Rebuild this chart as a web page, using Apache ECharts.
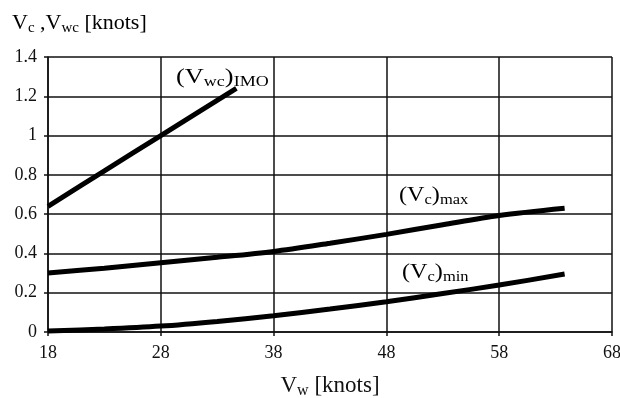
<!DOCTYPE html>
<html>
<head>
<meta charset="utf-8">
<script src="https://cdn.jsdelivr.net/npm/echarts@6/dist/echarts.min.js"></script>
<style>
  html, body { margin: 0; padding: 0; background: #fff; }
  #main { width: 620px; height: 398px; }
</style>
</head>
<body>
<div id="main"></div>
<script>
    // data
    var vwcImo = [[18, 0.64], [23, 0.82], [28, 1.0], [34.7, 1.24]];
    var vcMax = [[18, 0.30], [23, 0.325], [28, 0.353], [33, 0.38], [38, 0.41], [43, 0.452], [48, 0.497], [53, 0.546], [58, 0.593], [63.8, 0.63]];
    var vcMin = [[18, 0.005], [23, 0.015], [28, 0.03], [33, 0.054], [38, 0.083], [43, 0.117], [48, 0.154], [53, 0.196], [58, 0.239], [63.8, 0.295]];
    var xTicks = [18, 28, 38, 48, 58, 68];
    var yTicks = [0, 0.2, 0.4, 0.6, 0.8, 1, 1.2, 1.4];

    var font = 'Liberation Serif';
    var rich = {
        m: { fontFamily: font, fontSize: 22, color: '#111' },
        s: { fontFamily: font, fontSize: 15, color: '#111', padding: [11, 0, 0, 0] }
    };
    var richX = {
        m: { fontFamily: font, fontSize: 23, color: '#111' },
        s: { fontFamily: font, fontSize: 16, color: '#111', padding: [11, 0, 0, 0] }
    };

    var myChart = echarts.init(document.getElementById('main'));

    var lineSeries = function (name, data) {
        return {
            name: name,
            type: 'line',
            data: data,
            smooth: 0.3,
            showSymbol: false,
            symbol: 'none',
            lineStyle: { color: '#000', width: 5, cap: 'butt' },
            animation: false
        };
    };

    option = {
        backgroundColor: '#fff',
        grid: { left: 48, right: 8, top: 57, bottom: 66, containLabel: false, outerBoundsMode: 'none' },
        xAxis: {
            type: 'value',
            min: xTicks[0],
            max: xTicks[xTicks.length - 1],
            interval: 10,
            name: '{m|V}{s|w}{m| [knots]}',
            nameLocation: 'middle',
            nameGap: 40,
            nameTextStyle: { rich: richX },
            axisLine: { lineStyle: { color: '#111', width: 1.5 } },
            axisTick: { show: true, length: 4, lineStyle: { color: '#111', width: 1.5 } },
            axisLabel: { fontFamily: font, fontSize: 18, color: '#111', margin: 12 },
            splitLine: { show: true, lineStyle: { color: '#111', width: 1.5 } }
        },
        yAxis: {
            type: 'value',
            min: yTicks[0],
            max: yTicks[yTicks.length - 1],
            interval: 0.2,
            axisLine: { show: true, lineStyle: { color: '#111', width: 1.5 } },
            axisTick: { show: true, length: 4, lineStyle: { color: '#111', width: 1.5 } },
            axisLabel: { fontFamily: font, fontSize: 18, color: '#111', margin: 11 },
            splitLine: { show: true, lineStyle: { color: '#111', width: 1.5 } }
        },
        graphic: [
            {
                type: 'text', left: 12, top: 12,
                style: { text: '{m|V}{s|c}{m| ,V}{s|wc}{m| [knots]}', rich: rich }
            },
            {
                type: 'text', left: 176, top: 66, z: 20, scaleX: 1.2,
                style: { text: '{m|(V}{s|wc}{m|)}{s|IMO}', rich: rich }
            },
            {
                type: 'text', left: 399, top: 184, z: 20, scaleX: 1.1,
                style: { text: '{m|(V}{s|c}{m|)}{s|max}', rich: rich }
            },
            {
                type: 'text', left: 402, top: 261, z: 20, scaleX: 1.1,
                style: { text: '{m|(V}{s|c}{m|)}{s|min}', rich: rich }
            }
        ],
        series: [
            lineSeries('(Vwc)IMO', vwcImo),
            lineSeries('(Vc)max', vcMax),
            lineSeries('(Vc)min', vcMin)
        ]
    };
    myChart.setOption(option);
</script>
</body>
</html>
